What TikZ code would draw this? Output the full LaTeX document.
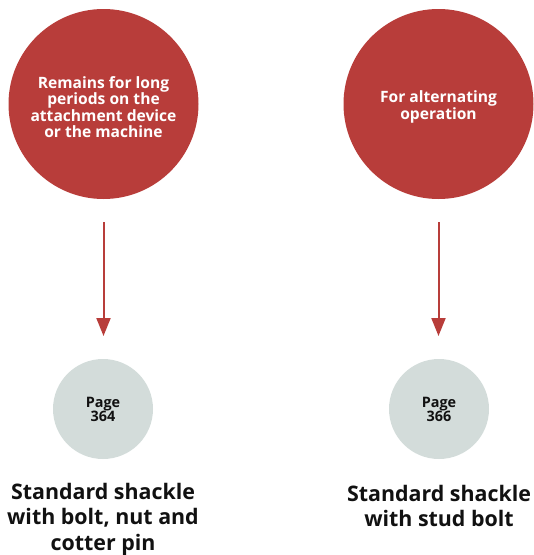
\documentclass[tikz,border=0pt]{standalone}
\usepackage{fontspec}
\setmainfont{Open Sans}[BoldFont={* Bold}]
\usetikzlibrary{arrows.meta}
\definecolor{shred}{HTML}{B83D3A}
\definecolor{shgray}{HTML}{D3DCDA}
\definecolor{shtext}{HTML}{111111}
\tikzset{
  bigcirc/.style={circle, fill=shred, minimum size=190pt, inner sep=0pt},
  bigtext/.style={inner sep=0pt, text=white, align=center, font=\bfseries\fontsize{15.6}{16.5}\selectfont},
  pagecirc/.style={circle, fill=shgray, minimum size=100pt, inner sep=0pt, text=shtext, align=center, font=\bfseries\fontsize{14.4}{14}\selectfont},
  caption/.style={text=shtext, align=center, font=\bfseries\fontsize{21.4}{25.5}\selectfont},
  flowarrow/.style={draw=shred, line width=2pt, -{Triangle[length=18pt,width=14pt]}}
}
\begin{document}
\begin{tikzpicture}[x=1pt,y=-1pt]
\useasboundingbox (0,0) rectangle (534,555);
\node[bigcirc] (c1) at (103.5,104) {};
\node[bigtext] (t1) at ([yshift=-3pt]c1.center) {Remains for long\\periods on the\\attachment device\\or the machine};
\node[bigcirc] (c2) at (438.5,104) {};
\node[bigtext] (t2) at ([yshift=-3pt]c2.center) {For alternating\\operation};
\coordinate (a1s) at (103.5,222);
\coordinate (a1e) at (103.5,336);
\coordinate (a2s) at (438.5,222);
\coordinate (a2e) at (438.5,336);
\draw[flowarrow] (a1s) -- (a1e);
\draw[flowarrow] (a2s) -- (a2e);
\node[pagecirc] (p1) at (103,409) {Page\\364};
\node[pagecirc] (p2) at (439,409) {Page\\366};
\node[caption, anchor=center] (l1) at (103,519) {Standard shackle\\with bolt, nut and\\cotter pin};
\node[caption, anchor=center] (l2) at (439,506) {Standard shackle\\with stud bolt};
\end{tikzpicture}
\end{document}
